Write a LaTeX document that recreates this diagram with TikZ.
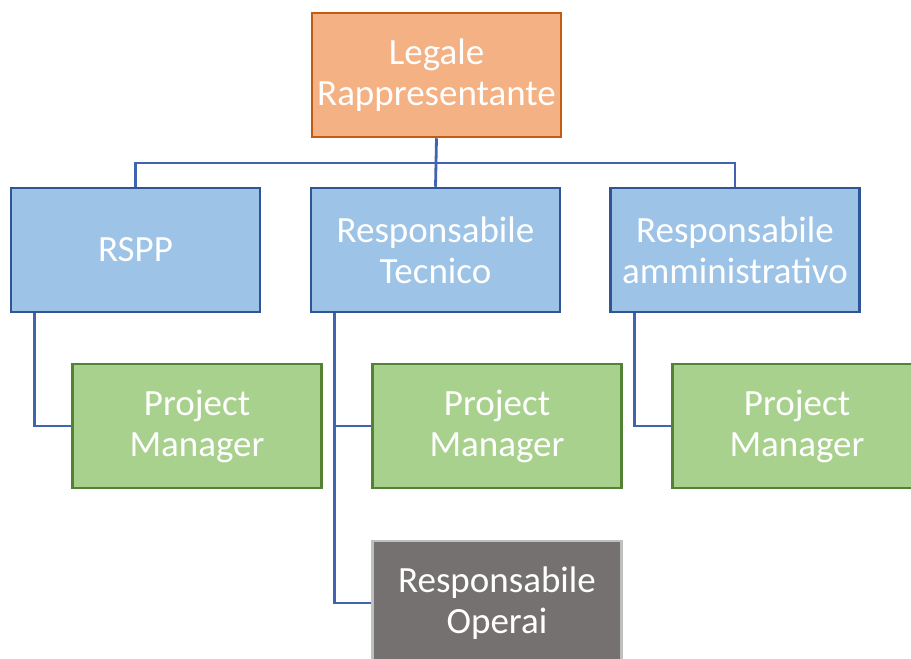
\documentclass[tikz,border=0pt]{standalone}
\usepackage{fontspec}
\setmainfont{Carlito}
\definecolor{orfill}{HTML}{F4B183}
\definecolor{ordraw}{HTML}{C55A11}
\definecolor{blfill}{HTML}{9DC3E6}
\definecolor{bldraw}{HTML}{2F5597}
\definecolor{grfill}{HTML}{A9D18E}
\definecolor{grdraw}{HTML}{548235}
\definecolor{gyfill}{HTML}{767171}
\definecolor{gydraw}{HTML}{BFBFBF}
\definecolor{linecol}{HTML}{3F65B0}
\begin{document}
\begin{tikzpicture}[x=1pt,y=-1pt,
  box/.style={rectangle, minimum width=249pt, minimum height=124pt, line width=2.5pt,
    text=white, align=center, inner sep=0pt, font=\fontsize{37}{41}\selectfont},
  orbox/.style={box, fill=orfill, draw=ordraw},
  blbox/.style={box, fill=blfill, draw=bldraw},
  grbox/.style={box, fill=grfill, draw=grdraw},
  gybox/.style={box, fill=gyfill, draw=gydraw},
  conn/.style={draw=linecol, line width=2.8pt}]
\clip (0,0) rectangle (911,659);
\useasboundingbox (0,0) rectangle (911,659);
\node[orbox] (top) at (436.5,75) {Legale\\Rappresentante};
\node[blbox] (rspp) at (135.5,250) {RSPP};
\node[blbox] (rt) at (435.5,250) {Responsabile\\Tecnico};
\node[blbox] (ra) at (735,250) {Responsabile\\amministrativo};
\node[grbox] (pm1) at (197,426) {Project\\Manager};
\node[grbox] (pm2) at (497,426) {Project\\Manager};
\node[grbox] (pm3) at (797,426) {Project\\Manager};
\node[gybox] (op) at (497,603) {Responsabile\\Operai};
\coordinate (bus) at (436,163);
\draw[conn] (top.south) -- (bus);
\draw[conn] (rspp.north) |- (bus) -| (ra.north);
\draw[conn] (bus) -- (rt.north);
\draw[conn] ([xshift=25pt]rspp.south west) |- (pm1.west);
\draw[conn] ([xshift=25pt]rt.south west) |- (pm2.west);
\draw[conn] ([xshift=25pt]rt.south west) |- (op.west);
\draw[conn] ([xshift=25pt]ra.south west) |- (pm3.west);
\end{tikzpicture}
\end{document}
